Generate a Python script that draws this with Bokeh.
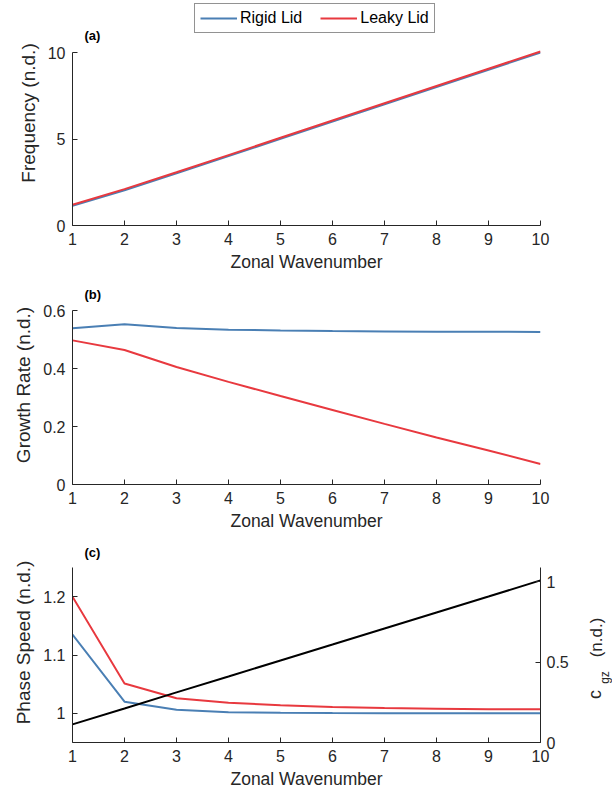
import math
from bokeh.plotting import figure
from bokeh.models import (Range1d, LinearAxis, Label, Legend, LegendItem,
                          FixedTicker, CustomJSTickFormatter)
from bokeh.layouts import column, row
from bokeh.embed import file_html
from bokeh.resources import INLINE

# ---------------- data ----------------
wavenumber = [1, 2, 3, 4, 5, 6, 7, 8, 9, 10]

freq_rigid = [1.135, 2.040, 3.016, 4.008, 5.005, 6.003, 7.002, 8.002, 9.001, 10.000]
freq_leaky = [1.200, 2.103, 3.078, 4.070, 5.070, 6.066, 7.063, 8.064, 9.063, 10.060]

growth_rigid = [0.539, 0.553, 0.540, 0.534, 0.531, 0.529, 0.528, 0.527, 0.527, 0.526]
growth_leaky = [0.497, 0.464, 0.405, 0.354, 0.305, 0.257, 0.209, 0.162, 0.117, 0.071]

speed_rigid = [1.135, 1.020, 1.006, 1.002, 1.001, 1.0005, 1.0003, 1.0002, 1.0001, 1.000]
speed_leaky = [1.200, 1.051, 1.026, 1.018, 1.014, 1.011, 1.009, 1.008, 1.007, 1.007]

cgz = [0.113, 0.212, 0.312, 0.411, 0.511, 0.610, 0.710, 0.810, 0.909, 1.010]

x_ticks = [1, 2, 3, 4, 5, 6, 7, 8, 9, 10]
freq_ticks = [0, 5, 10]
growth_ticks = [0, 0.2, 0.4, 0.6]
speed_ticks = [1, 1.1, 1.2]
cgz_ticks = [0, 0.5, 1]

freq_lim = (0, 10)
growth_lim = (0, 0.6)
speed_lim = (0.95, 1.25)
cgz_lim = (0, 1.09)

# ---------------- styling ----------------
FONT = "Liberation Sans"
TXT = "#262626"
BLUE = "#4a7fb4"
RED = "#e8393f"
W = 612
fmt = CustomJSTickFormatter(code="return String(Math.round(tick*1000)/1000);")


def style(p):
    p.outline_line_color = None
    p.xgrid.visible = False
    p.ygrid.visible = False
    p.background_fill_color = "white"
    p.border_fill_color = "white"
    for ax in p.axis:
        ax.axis_line_color = TXT
        ax.axis_line_width = 1
        ax.major_tick_line_color = TXT
        ax.major_tick_in = 5
        ax.major_tick_out = 0
        ax.minor_tick_line_color = None
        ax.major_label_text_font = FONT
        ax.major_label_text_font_size = "16px"
        ax.major_label_text_color = TXT
        ax.major_label_standoff = 7
        ax.axis_label_text_font = FONT
        ax.axis_label_text_font_size = "17.5px"
        ax.axis_label_text_font_style = "normal"
        ax.axis_label_text_color = TXT
        ax.axis_label_standoff = 4
        ax.formatter = fmt
    for ax in p.yaxis:
        ax.axis_label_text_font_size = "19px"
        ax.axis_label_standoff = 6


def extended(lim, frame_h, data_h):
    # the frame reaches the top of the canvas (so that labels drawn inside it
    # are not clipped); the data limits occupy the lower data_h pixels
    lo, hi = lim
    return Range1d(lo, lo + (hi - lo) * frame_h / data_h)


def make_fig(width, height, bottom, right, lim, data_h):
    frame_h = height - bottom
    p = figure(width=width, height=height, x_range=Range1d(1, 10),
               y_range=extended(lim, frame_h, data_h),
               output_backend="svg", toolbar_location=None, title_location=None,
               min_border_left=72, min_border_right=right,
               min_border_top=0, min_border_bottom=bottom)
    p.xaxis.ticker = FixedTicker(ticks=x_ticks)
    p.xaxis.axis_label = "Zonal Wavenumber"
    return p


def panel_label(p, txt):
    p.add_layout(Label(x=12, y=190, x_units="screen", y_units="screen", text=txt,
                       text_font=FONT, text_font_size="13px", text_font_style="bold",
                       text_color="black", text_align="left", text_baseline="middle"))


# ---------------- panel (a) ----------------
pa = make_fig(W, 285, 60, 72, freq_lim, 173)
ra1 = pa.line(wavenumber, freq_rigid, line_color=BLUE, line_width=2)
ra2 = pa.line(wavenumber, freq_leaky, line_color=RED, line_width=2)
pa.yaxis.ticker = FixedTicker(ticks=freq_ticks)
pa.yaxis.bounds = freq_lim
pa.yaxis.axis_label = "Frequency (n.d.)"
style(pa)
legend = Legend(items=[LegendItem(label="Rigid Lid", renderers=[ra1]),
                       LegendItem(label="Leaky Lid", renderers=[ra2])],
                location=(122, 192), orientation="horizontal",
                border_line_color=TXT, border_line_width=1,
                background_fill_color="white", background_fill_alpha=1,
                label_text_font=FONT, label_text_font_size="16px", label_text_color="black",
                glyph_width=37, glyph_height=14, label_height=14,
                label_standoff=3, spacing=18, padding=5, margin=0)
pa.add_layout(legend)
panel_label(pa, "(a)")

# ---------------- panel (b) ----------------
pb = make_fig(W, 257, 58, 72, growth_lim, 174)
pb.line(wavenumber, growth_rigid, line_color=BLUE, line_width=2)
pb.line(wavenumber, growth_leaky, line_color=RED, line_width=2)
pb.yaxis.ticker = FixedTicker(ticks=growth_ticks)
pb.yaxis.bounds = growth_lim
pb.yaxis.axis_label = "Growth Rate (n.d.)"
style(pb)
panel_label(pb, "(b)")

# ---------------- panel (c) ----------------
pc = make_fig(575, 253, 53, 35, speed_lim, 175)
pc.extra_y_ranges = {"cgz": extended(cgz_lim, 200, 175)}
pc.line(wavenumber, speed_rigid, line_color=BLUE, line_width=2)
pc.line(wavenumber, speed_leaky, line_color=RED, line_width=2)
pc.line(wavenumber, cgz, line_color="black", line_width=2, y_range_name="cgz")
pc.yaxis.ticker = FixedTicker(ticks=speed_ticks)
pc.yaxis.bounds = speed_lim
pc.yaxis.axis_label = "Phase Speed (n.d.)"
right = LinearAxis(y_range_name="cgz", ticker=FixedTicker(ticks=cgz_ticks), bounds=cgz_lim)
pc.add_layout(right, "right")
style(pc)
right.major_label_standoff = 6
panel_label(pc, "(c)")

# narrow strip to the right of panel (c) holding the c_gz axis title
pr = figure(width=W - 575, height=253, x_range=Range1d(0, 1), y_range=Range1d(0, 1),
            output_backend="svg", toolbar_location=None, title_location=None,
            x_axis_location=None, y_axis_location=None,
            min_border=0, min_border_left=0, min_border_right=0,
            min_border_top=0, min_border_bottom=0)
pr.outline_line_color = None
pr.xgrid.visible = False
pr.ygrid.visible = False
for txt, x, y, size in [("c", 19, 48, "18px"), ("gz", 29, 65, "12px"),
                        ("(n.d.)", 21, 105, "17px")]:
    pr.add_layout(Label(x=x, y=y, x_units="screen", y_units="screen", text=txt,
                        angle=math.pi / 2, text_font=FONT, text_font_size=size,
                        text_color=TXT, text_align="center", text_baseline="middle"))

layout = column(pa, pb, row(pc, pr, spacing=0), spacing=0)
open("out.html", "w").write(file_html(layout, INLINE))
